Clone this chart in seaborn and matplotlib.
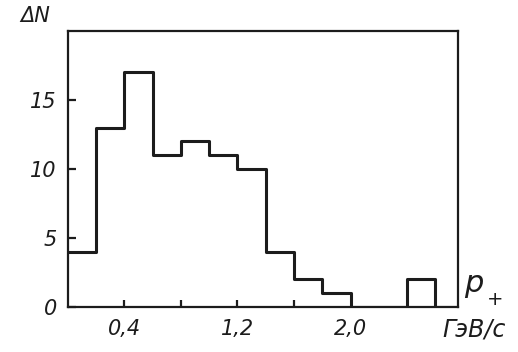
import matplotlib
matplotlib.use("Agg")
import matplotlib.pyplot as plt
import seaborn as sns
import numpy as np

# Data
bin_edges = [0.0, 0.2, 0.4, 0.6, 0.8, 1.0, 1.2, 1.4, 1.6, 1.8, 2.0, 2.2, 2.4, 2.6, 2.8]
counts = [4, 13, 17, 11, 12, 11, 10, 4, 2, 1, 0, 0, 2, 0]
x_ticks = [0.4, 1.2, 2.0]
x_tick_labels = ["0,4", "1,2", "2,0"]
x_minor_ticks = [0.4, 0.8, 1.2, 1.6]
y_ticks = [0, 5, 10, 15]
y_tick_labels = ["0", "5", "10", "15"]

centers = [(a + b) / 2 for a, b in zip(bin_edges[:-1], bin_edges[1:])]

sns.set_theme(style="white")
plt.rcParams['font.family'] = ['DejaVu Sans']

ink = "#1c1c1c"
fig = plt.figure(figsize=(5.18, 3.52), dpi=100)
ax = fig.add_axes([0.131, 0.128, 0.753, 0.784])

sns.histplot(x=centers, weights=counts, bins=bin_edges, element="step",
             fill=False, color=ink, linewidth=2.2, ax=ax)

ax.set_xlim(0, 2.76)
ax.set_ylim(0, 20)
for s in ax.spines.values():
    s.set_color(ink)
    s.set_linewidth(1.6)
    s.set_visible(True)

ax.set_xticks(x_minor_ticks)
ax.set_xticklabels([])
ax.tick_params(axis="x", direction="in", length=5, width=1.6, color=ink, bottom=True)
ax.set_yticks(y_ticks)
ax.set_yticklabels(y_tick_labels, fontsize=15, style="italic", color=ink)
ax.tick_params(axis="y", direction="in", length=6, width=1.6, color=ink, left=True, pad=8)
for t, lab in zip(x_ticks, x_tick_labels):
    ax.text(t, -0.9, lab, ha="center", va="top", fontsize=15, style="italic",
            color=ink, transform=ax.transData)
ax.set_xlabel("")
ax.set_ylabel("")
ax.grid(False)

fig.text(0.068, 0.955, "ΔN", fontsize=15, style="italic", color=ink, ha="center", va="center")
fig.text(0.915, 0.19, r"$p$", fontsize=22, color=ink, ha="center", va="center")
fig.text(0.955, 0.15, "+", fontsize=14, color=ink, ha="center", va="center")
fig.text(0.915, 0.065, "ГэВ/с", fontsize=17, style="italic", color=ink, ha="center", va="center")

fig.savefig("out.png", dpi=100, facecolor="white")
